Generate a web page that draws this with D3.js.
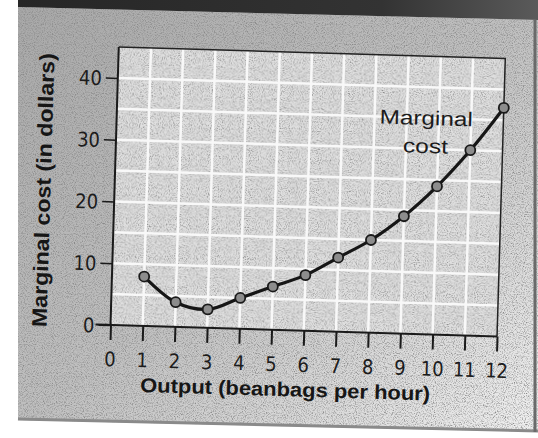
<!DOCTYPE html>
<html lang="en">
<head>
<meta charset="UTF-8">
<title>Marginal cost</title>
<style>
    body {
        margin: 0;
        padding: 0;
        background: #fff;
    }

    svg {
        display: block;
    }

    .tick text {
        font-family: 'Liberation Sans Narrow', 'DejaVu Sans Condensed', 'Arial Narrow', sans-serif;
        font-size: 20px;
        fill: #1c1c1c;
    }

    .title {
        font-family: 'Liberation Sans', Arial, sans-serif;
        font-weight: bold;
        fill: #161616;
    }

    .note {
        font-family: 'Liberation Sans', Arial, sans-serif;
        font-size: 20px;
        fill: #1c1c1c;
    }
</style>
</head>
<body>
<script src="https://d3js.org/d3.v7.min.js"></script>
<script>
    // values
    const output = [1, 2, 3, 4, 5, 6, 7, 8, 9, 10, 11, 12]
    const marginalCost = [8, 4, 3, 5, 7, 9, 12, 15, 19, 24, 30, 37]
    const xTickValues = [0, 1, 2, 3, 4, 5, 6, 7, 8, 9, 10, 11, 12]
    const yTickValues = [0, 10, 20, 30, 40]
    const xGridValues = [1, 2, 3, 4, 5, 6, 7, 8, 9, 10, 11]
    const yGridValues = [5, 10, 15, 20, 25, 30, 35, 40]

    const width = 538
    const height = 438

    // the scan is tilted a little, so the chart sits in a rotated group
    const origin = [110.5, 325]
    const tilt = 1.7

    const x = d3.scaleLinear().domain([0, 12]).range([origin[0], origin[0] + 386.7])
    const y = d3.scaleLinear().domain([0, 45]).range([origin[1], origin[1] - 278.1])

    const svg = d3.select('body')
        .append('svg')
        .attr('width', width)
        .attr('height', height)

    const defs = svg.append('defs')

    // paper grain
    const grain = defs.append('filter')
        .attr('id', 'grain')
        .attr('x', 0).attr('y', 0).attr('width', '100%').attr('height', '100%')
    grain.append('feTurbulence')
        .attr('type', 'fractalNoise')
        .attr('baseFrequency', 0.9)
        .attr('numOctaves', 2)
        .attr('seed', 7)
        .attr('result', 'noise')
    grain.append('feColorMatrix')
        .attr('in', 'noise')
        .attr('type', 'matrix')
        .attr('values', '0 0 0 0 0.25  0 0 0 0 0.25  0 0 0 0 0.25  2.6 0 0 0 -1.14')
        .attr('result', 'specks')
    grain.append('feComposite')
        .attr('in', 'specks')
        .attr('in2', 'SourceGraphic')
        .attr('operator', 'in')
        .attr('result', 'clipped')
    const merge = grain.append('feMerge')
    merge.append('feMergeNode').attr('in', 'SourceGraphic')
    merge.append('feMergeNode').attr('in', 'clipped')

    const paperGrad = defs.append('linearGradient')
        .attr('id', 'paper')
        .attr('x1', 0).attr('y1', 0).attr('x2', 1).attr('y2', 1)
    paperGrad.append('stop').attr('offset', 0).attr('stop-color', '#a8a8a8')
    paperGrad.append('stop').attr('offset', 0.5).attr('stop-color', '#c0c0c0')
    paperGrad.append('stop').attr('offset', 1).attr('stop-color', '#f0f0f0')

    const bandGrad = defs.append('linearGradient')
        .attr('id', 'band')
        .attr('x1', 0).attr('y1', 0).attr('x2', 1).attr('y2', 0)
    bandGrad.append('stop').attr('offset', 0).attr('stop-color', '#262626')
    bandGrad.append('stop').attr('offset', 0.7).attr('stop-color', '#333')
    bandGrad.append('stop').attr('offset', 1).attr('stop-color', '#5a5a5a')

    // page background
    svg.append('path')
        .attr('d', 'M18,7 L538,20 L538,432 L18,420 Z')
        .attr('fill', 'url(#paper)')
        .attr('filter', 'url(#grain)')
    svg.append('path')
        .attr('d', 'M18,0 L538,0 L538,20 L18,7 Z')
        .attr('fill', 'url(#band)')
    svg.append('path')
        .attr('d', 'M18,419 L538,431')
        .attr('stroke', '#8a8a8a')
        .attr('stroke-width', 3)
    svg.append('path')
        .attr('d', 'M535,20 L535,432')
        .attr('stroke', '#6a6a6a')
        .attr('stroke-width', 3)

    const g = svg.append('g')
        .attr('transform', `rotate(${tilt},${origin[0]},${origin[1]})`)

    // plot panel
    g.append('rect')
        .attr('x', x(0))
        .attr('y', y(45))
        .attr('width', x(12) - x(0))
        .attr('height', y(0) - y(45))
        .attr('fill', '#e0e0e0')
        .attr('filter', 'url(#grain)')

    g.selectAll('.vgrid')
        .data(xGridValues)
        .join('line')
        .attr('class', 'vgrid')
        .attr('x1', d => x(d)).attr('x2', d => x(d))
        .attr('y1', y(45)).attr('y2', y(0))
        .attr('stroke', '#f8f8f8')
        .attr('stroke-width', 2.5)

    g.selectAll('.hgrid')
        .data(yGridValues)
        .join('line')
        .attr('class', 'hgrid')
        .attr('x1', x(0)).attr('x2', x(12))
        .attr('y1', d => y(d)).attr('y2', d => y(d))
        .attr('stroke', '#f8f8f8')
        .attr('stroke-width', 2.5)

    // frame: thin top and right, heavier axes
    g.append('path')
        .attr('d', `M${x(0)},${y(45)} L${x(12)},${y(45)} L${x(12)},${y(0)}`)
        .attr('fill', 'none')
        .attr('stroke', '#222')
        .attr('stroke-width', 1.5)

    const xAxis = d3.axisBottom(x)
        .tickValues(xTickValues)
        .tickSize(15)
        .tickPadding(12)
        .tickFormat(d3.format('d'))

    const yAxis = d3.axisLeft(y)
        .tickValues(yTickValues)
        .tickSize(12)
        .tickPadding(4)
        .tickFormat(d3.format('d'))

    g.append('g')
        .attr('transform', `translate(0,${y(0)})`)
        .call(xAxis)
        .call(sel => sel.select('.domain').remove())
        .call(sel => sel.selectAll('.tick line').attr('stroke', '#1a1a1a').attr('stroke-width', 2))

    g.append('g')
        .attr('transform', `translate(${x(0)},0)`)
        .call(yAxis)
        .call(sel => sel.select('.domain').remove())
        .call(sel => sel.selectAll('.tick line').attr('stroke', '#1a1a1a').attr('stroke-width', 1.5))
        .call(sel => sel.selectAll('.tick text').attr('dy', '0.36em'))

    g.append('line')
        .attr('x1', x(0) - 15).attr('x2', x(12))
        .attr('y1', y(0)).attr('y2', y(0))
        .attr('stroke', '#1a1a1a')
        .attr('stroke-width', 2)

    g.append('line')
        .attr('x1', x(0)).attr('x2', x(0))
        .attr('y1', y(45)).attr('y2', y(0))
        .attr('stroke', '#1a1a1a')
        .attr('stroke-width', 2)

    // the curve
    const line = d3.line()
        .x((d, i) => x(output[i]))
        .y(d => y(d))
        .curve(d3.curveCatmullRom.alpha(0.5))

    g.append('path')
        .datum(marginalCost)
        .attr('d', line)
        .attr('fill', 'none')
        .attr('stroke', '#161616')
        .attr('stroke-width', 3.2)

    g.selectAll('.dot')
        .data(marginalCost)
        .join('circle')
        .attr('class', 'dot')
        .attr('cx', (d, i) => x(output[i]))
        .attr('cy', d => y(d))
        .attr('r', 5)
        .attr('fill', '#8c8c8c')
        .attr('stroke', '#1a1a1a')
        .attr('stroke-width', 1.8)

    // labels
    g.append('text')
        .attr('class', 'title')
        .attr('x', 287)
        .attr('y', origin[1] + 66)
        .attr('text-anchor', 'middle')
        .attr('font-size', 20)
        .attr('textLength', 290)
        .attr('lengthAdjust', 'spacingAndGlyphs')
        .text('Output (beanbags per hour)')

    g.append('text')
        .attr('class', 'title')
        .attr('transform', `translate(${origin[0] - 64},${y(21.5)}) rotate(-90)`)
        .attr('text-anchor', 'middle')
        .attr('font-size', 21)
        .attr('textLength', 274)
        .attr('lengthAdjust', 'spacingAndGlyphs')
        .text('Marginal cost (in dollars)')

    g.append('text')
        .attr('class', 'note')
        .attr('x', 420)
        .attr('y', 115.7)
        .attr('text-anchor', 'middle')
        .attr('textLength', 93)
        .attr('lengthAdjust', 'spacingAndGlyphs')
        .text('Marginal')

    g.append('text')
        .attr('class', 'note')
        .attr('x', 420)
        .attr('y', 143.7)
        .attr('text-anchor', 'middle')
        .attr('textLength', 45)
        .attr('lengthAdjust', 'spacingAndGlyphs')
        .text('cost')
</script>
</body>
</html>
